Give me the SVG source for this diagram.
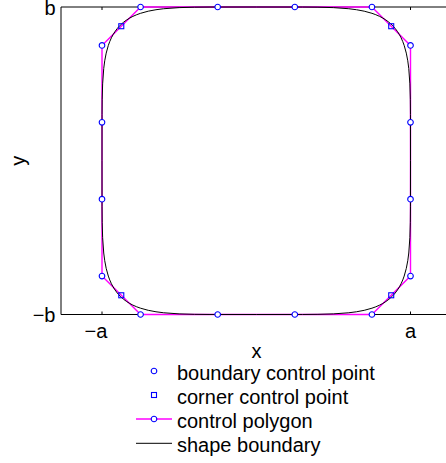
<svg xmlns="http://www.w3.org/2000/svg" xmlns:xlink="http://www.w3.org/1999/xlink" width="446" height="463" viewBox="0 0 446 463">
<style>
text{font-family:"Liberation Sans",Arial,sans-serif;font-size:20px;fill:#000}
.ax{stroke:#000;stroke-width:1;fill:none}
.poly{stroke:#ff00ff;stroke-width:1.4;fill:none;stroke-linejoin:round}
.shape{stroke:#000;stroke-width:1;fill:none;vector-effect:non-scaling-stroke;stroke-linejoin:round}
.cp{stroke:#0000ff;stroke-width:1.1;fill:#fff}
.sq{stroke:#0000ff;stroke-width:1.1;fill:none}
</style>
<defs>
<path id="quad" class="shape" d="M1,0 L0.99976,0.3 L0.99882,0.4 L0.99594,0.5 L0.98877,0.6 L0.9823,0.65 L0.97283,0.7 L0.95903,0.75 L0.94993,0.775 L0.93888,0.8 L0.92833,0.82 L0.91587,0.84 L0.90105,0.86 L0.89253,0.87 L0.8816,0.8816 L0.87,0.89253 L0.86,0.90105 L0.84,0.91587 L0.82,0.92833 L0.8,0.93888 L0.775,0.94993 L0.75,0.95903 L0.7,0.97283 L0.65,0.9823 L0.6,0.98877 L0.5,0.99594 L0.4,0.99882 L0.3,0.99976 L0,1"/>
<circle id="c" class="cp" r="2.8"/>
<rect id="s" class="sq" x="-2.5" y="-2.5" width="5" height="5"/>
</defs>
<g id="axes">
<path class="ax" d="M446,7 H61 V314.5 H446"/>
<path class="ax" d="M102,7 v3 M410.5,7 v3 M102,314.5 v-3 M410.5,314.5 v-3"/>
<text x="55.5" y="14.5" text-anchor="end">b</text>
<text x="55.5" y="322" text-anchor="end">−b</text>
<text x="96" y="337.5" text-anchor="middle">−a</text>
<text x="410.5" y="337.5" text-anchor="middle">a</text>
<text x="256.5" y="358" text-anchor="middle">x</text>
<text transform="translate(24.5,160.75) rotate(-90)" text-anchor="middle">y</text>
</g>
<g id="control-polygon">
<path class="poly" d="M140.56,7 L217.69,7 L294.81,7 L371.94,7 L391.22,26.22 L410.5,45.44 L410.5,122.31 L410.5,199.19 L410.5,276.06 L391.22,295.28 L371.94,314.5 L294.81,314.5 L217.69,314.5 L140.56,314.5 L121.28,295.28 L102,276.06 L102,199.19 L102,122.31 L102,45.44 L121.28,26.22 Z"/>
</g>
<g id="shape-boundary" transform="translate(256.25,160.75) scale(154.25,153.75)">
<use xlink:href="#quad"/>
<use xlink:href="#quad" transform="scale(-1,1)"/>
<use xlink:href="#quad" transform="scale(1,-1)"/>
<use xlink:href="#quad" transform="scale(-1,-1)"/>
</g>
<g id="boundary-points">
<use xlink:href="#c" x="140.56" y="7"/>
<use xlink:href="#c" x="217.69" y="7"/>
<use xlink:href="#c" x="294.81" y="7"/>
<use xlink:href="#c" x="371.94" y="7"/>
<use xlink:href="#c" x="410.5" y="45.44"/>
<use xlink:href="#c" x="410.5" y="122.31"/>
<use xlink:href="#c" x="410.5" y="199.19"/>
<use xlink:href="#c" x="410.5" y="276.06"/>
<use xlink:href="#c" x="371.94" y="314.5"/>
<use xlink:href="#c" x="294.81" y="314.5"/>
<use xlink:href="#c" x="217.69" y="314.5"/>
<use xlink:href="#c" x="140.56" y="314.5"/>
<use xlink:href="#c" x="102" y="276.06"/>
<use xlink:href="#c" x="102" y="199.19"/>
<use xlink:href="#c" x="102" y="122.31"/>
<use xlink:href="#c" x="102" y="45.44"/>
</g>
<g id="corner-points">
<use xlink:href="#s" x="391.22" y="26.22"/>
<use xlink:href="#s" x="391.22" y="295.28"/>
<use xlink:href="#s" x="121.28" y="295.28"/>
<use xlink:href="#s" x="121.28" y="26.22"/>
</g>
<g id="legend">
<use xlink:href="#c" x="154" y="371"/>
<text x="177" y="379.5">boundary control point</text>
<use xlink:href="#s" x="154" y="395"/>
<text x="177" y="403.7">corner control point</text>
<path class="poly" d="M136,419 H172"/>
<use xlink:href="#c" x="154" y="419"/>
<text x="177" y="427.9">control polygon</text>
<path class="ax" d="M136,443.3 H172"/>
<text x="177" y="452.1">shape boundary</text>
</g>
</svg>
